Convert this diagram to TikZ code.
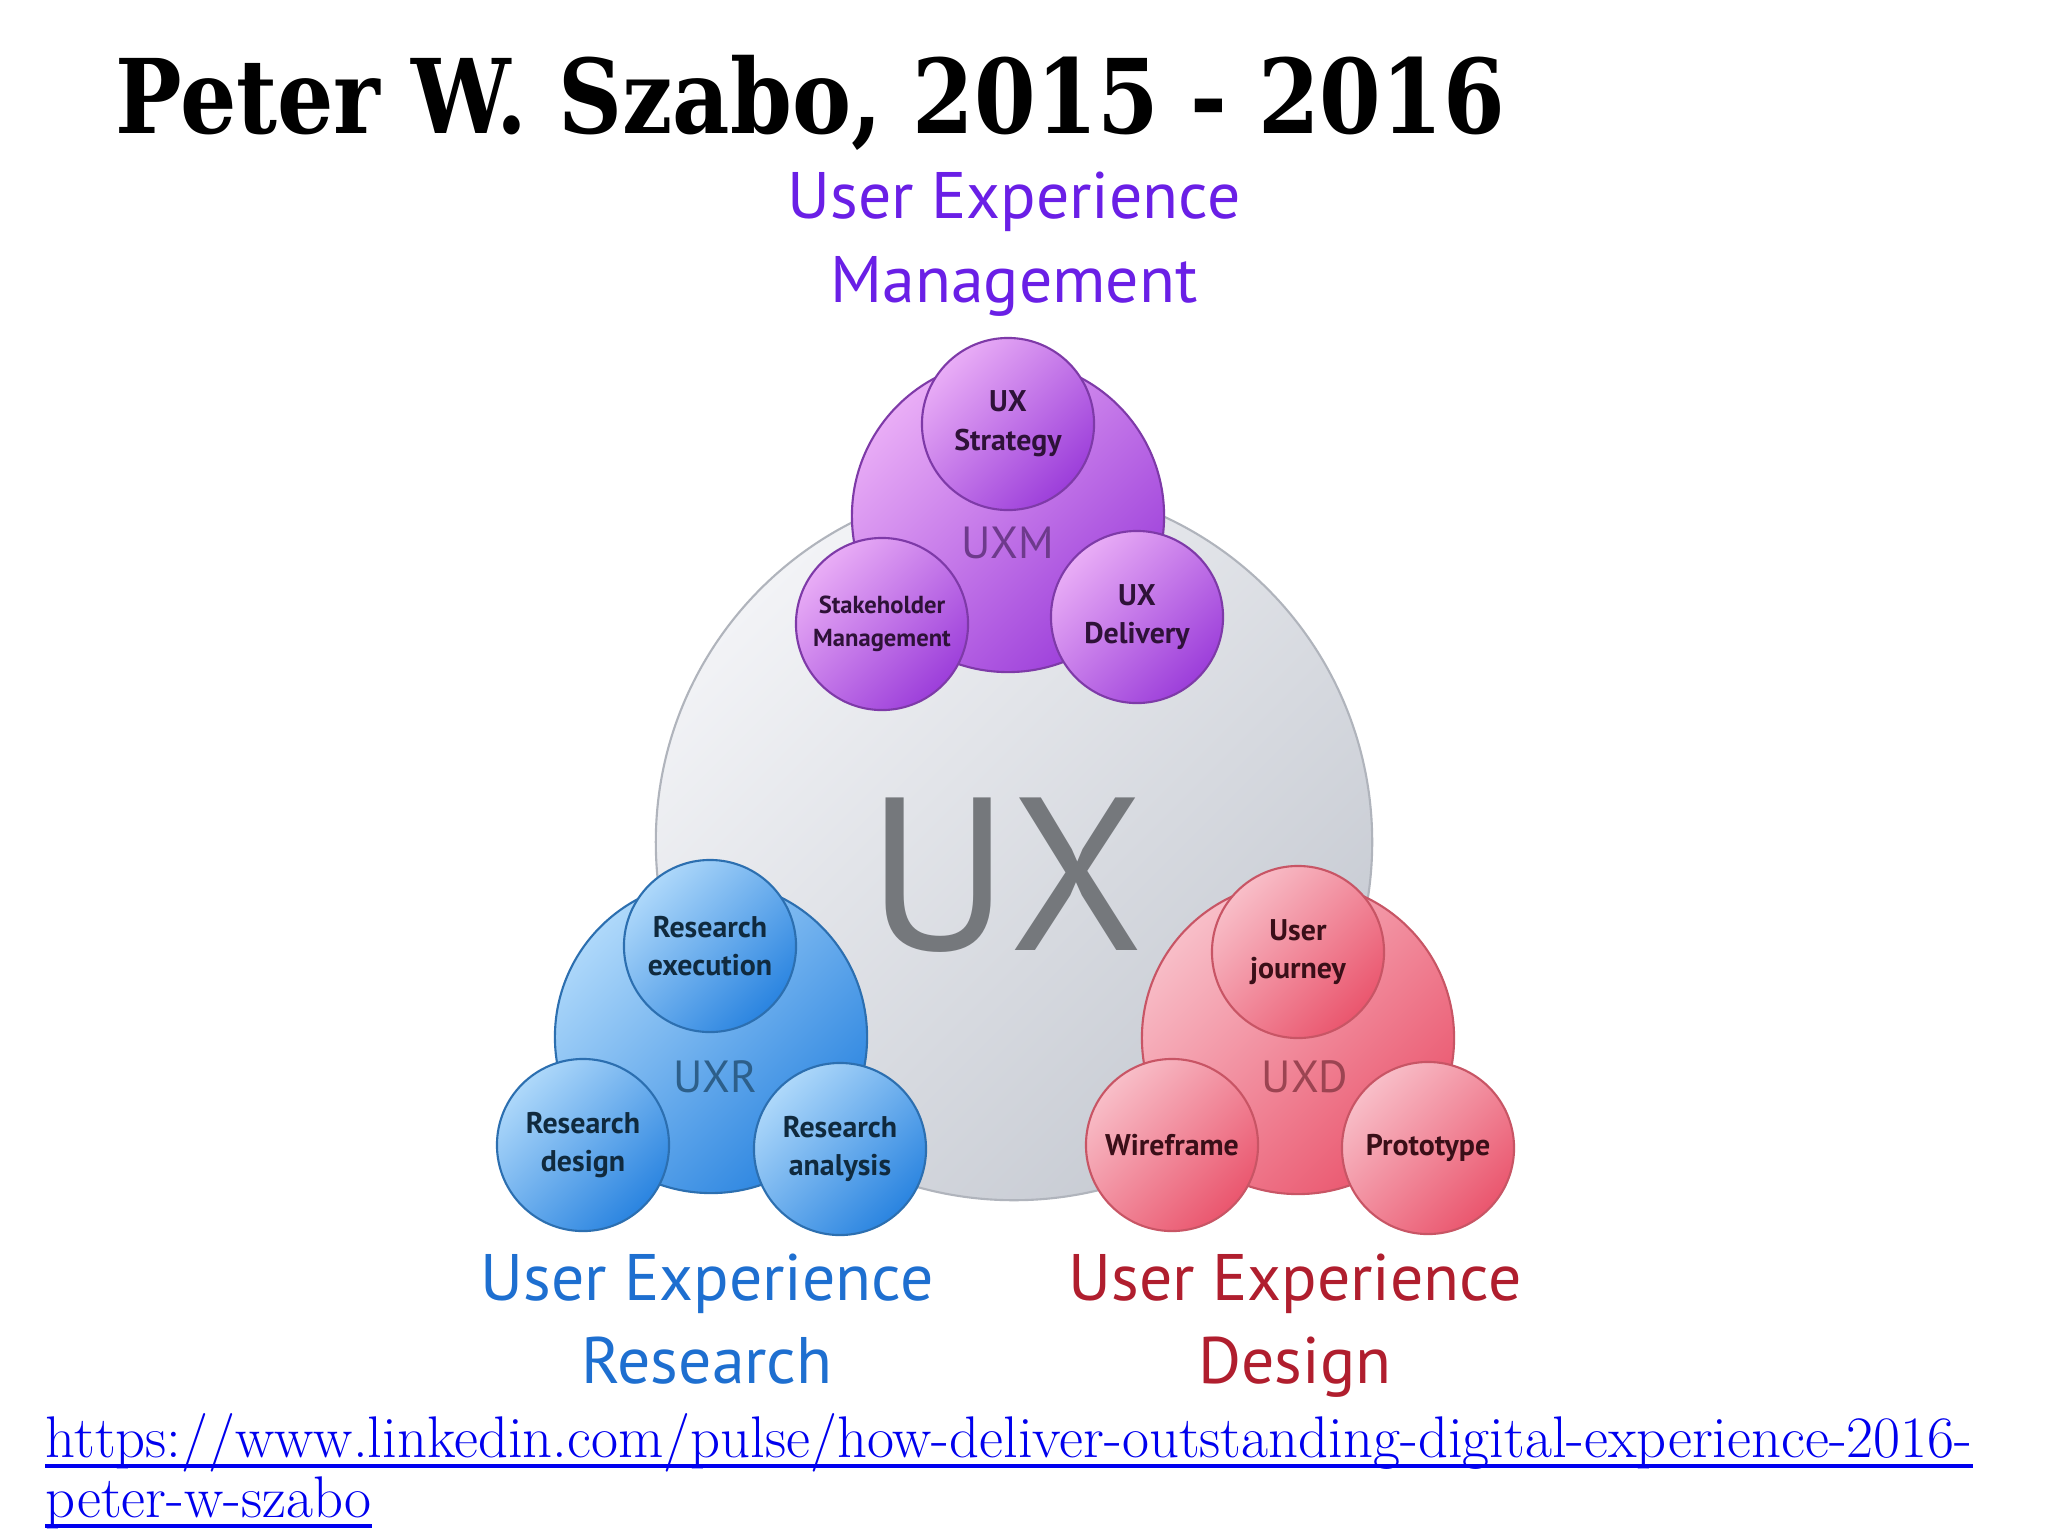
\documentclass[tikz,border=0pt]{standalone}
\usepackage{fontspec}
\usepackage{graphicx}
\newfontfamily\uxfont{PT Sans}
\newfontfamily\titlefont{DejaVu Serif}

\definecolor{uxlight}{HTML}{F2F3F6}
\definecolor{uxdark}{HTML}{C6CAD2}
\definecolor{uxline}{HTML}{B0B4BC}
\definecolor{uxgray}{HTML}{75787C}
\definecolor{mlight}{HTML}{E9ADF6}
\definecolor{mdark}{HTML}{9C3EDA}
\definecolor{mline}{HTML}{7E3AA8}
\definecolor{mtext}{HTML}{2E1238}
\definecolor{mtag}{HTML}{6E3A8C}
\definecolor{mhead}{HTML}{6A1FE6}
\definecolor{rlight}{HTML}{AED8FA}
\definecolor{rdark}{HTML}{2A84E0}
\definecolor{rline}{HTML}{2C6FB0}
\definecolor{rtext}{HTML}{102A3E}
\definecolor{rtag}{HTML}{2D5F8A}
\definecolor{rhead}{HTML}{1E6FD0}
\definecolor{dlight}{HTML}{F8BEC8}
\definecolor{ddark}{HTML}{EA566E}
\definecolor{dline}{HTML}{C85565}
\definecolor{dtext}{HTML}{3A0F18}
\definecolor{dtag}{HTML}{9C4452}
\definecolor{dhead}{HTML}{B01E2E}
\definecolor{urlblue}{HTML}{0000EE}

\begin{document}
\begin{tikzpicture}[x=0.01cm, y=-0.01cm,
	bubble/.style={circle, inner sep=0pt, align=center, line width=0.6pt,
		shading angle=45, font=\uxfont\bfseries\fontsize{8.5}{11}\selectfont},
	big/.style={minimum size=3.12cm},
	small/.style={minimum size=1.72cm},
	uxm/.style={draw=mline, top color=mlight, bottom color=mdark, shading angle=45, text=mtext},
	uxr/.style={draw=rline, top color=rlight, bottom color=rdark, shading angle=45, text=rtext},
	uxd/.style={draw=dline, top color=dlight, bottom color=ddark, shading angle=45, text=dtext},
	tag/.style={anchor=base, inner sep=0pt, font=\uxfont\fontsize{12.8}{15}\selectfont},
	head/.style={anchor=base, inner sep=0pt, font=\uxfont\fontsize{18.7}{22}\selectfont}]

	\fill [white] (0,0) rectangle (2048,1536);

	\node [anchor=base west, inner sep=0pt, font=\titlefont\bfseries\fontsize{29.3}{34}\selectfont] (title) at (115,133) {\scalebox{0.86}[1]{Peter W. Szabo, 2015 - 2016}};

	\node [head, text=mhead] (mhead1) at (1014,218) {User Experience};
	\node [head, text=mhead] (mhead2) at (1014,302) {Management};

	\node [bubble, minimum size=7.16cm, draw=uxline, top color=uxlight, bottom color=uxdark, shading angle=45] (ux) at (1014,842) {};
	\node [anchor=base, inner sep=0pt, text=uxgray, font=\uxfont\fontsize{62}{70}\selectfont] (uxlabel) at (1006,950) {UX};

	\node [bubble, big, uxm] (uxmmain) at (1008,516) {};
	\node [bubble, small, uxm] (strategy) at (1008,424) {UX\\Strategy};
	\node [bubble, small, uxm, font=\uxfont\bfseries\fontsize{7}{9.5}\selectfont] (stake) at (882,624) {Stakeholder\\Management};
	\node [bubble, small, uxm] (delivery) at (1137,617) {UX\\Delivery};
	\node [tag, text=mtag] (uxmlabel) at (1008,558) {UXM};

	\node [bubble, big, uxr] (uxrmain) at (711,1037) {};
	\node [bubble, small, uxr] (execution) at (710,946) {Research\\execution};
	\node [bubble, small, uxr] (rdesign) at (583,1145) {Research\\design};
	\node [bubble, small, uxr] (analysis) at (840,1149) {Research\\analysis};
	\node [tag, text=rtag] (uxrlabel) at (715,1092) {UXR};

	\node [bubble, big, uxd] (uxdmain) at (1298,1038) {};
	\node [bubble, small, uxd] (journey) at (1298,952) {User\\journey};
	\node [bubble, small, uxd] (wireframe) at (1172,1145) {Wireframe};
	\node [bubble, small, uxd] (prototype) at (1428,1148) {Prototype};
	\node [tag, text=dtag] (uxdlabel) at (1305,1092) {UXD};

	\node [head, text=rhead] (rhead1) at (707,1300) {User Experience};
	\node [head, text=rhead] (rhead2) at (707,1383) {Research};
	\node [head, text=dhead] (dhead1) at (1295,1300) {User Experience};
	\node [head, text=dhead] (dhead2) at (1295,1383) {Design};

	\node [anchor=base west, inner sep=0pt, text=urlblue, font=\fontsize{16.7}{19}\selectfont] (url1) at (45,1457) {https://www.linkedin.com/pulse/how-deliver-outstanding-digital-experience-2016-};
	\node [anchor=base west, inner sep=0pt, text=urlblue, font=\fontsize{16.7}{19}\selectfont] (url2) at (45,1517) {peter-w-szabo};
	\draw [urlblue, line width=1pt] ([yshift=-0.09cm]url1.base west) -- ([yshift=-0.09cm]url1.base east);
	\draw [urlblue, line width=1pt] ([yshift=-0.09cm]url2.base west) -- ([yshift=-0.09cm]url2.base east);

\end{tikzpicture}
\end{document}
